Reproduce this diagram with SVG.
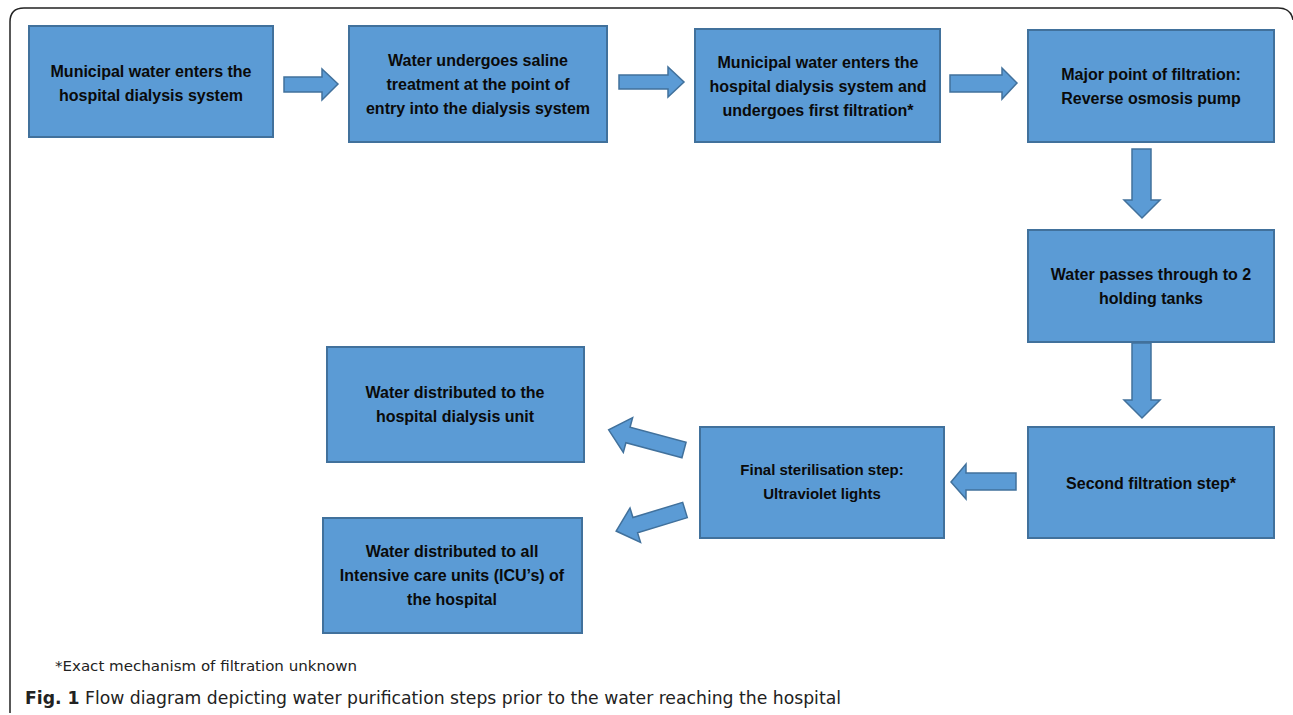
<svg xmlns="http://www.w3.org/2000/svg" width="1293" height="715" viewBox="0 0 1293 715">
<style>
.box{fill:#5B9BD5;stroke:#41719C;stroke-width:2}
.arr{fill:#5B9BD5;stroke:#41719C;stroke-width:1.5}
.t{font-family:"Liberation Sans",Arial,sans-serif;font-weight:bold;font-size:16px;fill:#0a0a0a;text-anchor:middle}
.s{font-size:15px}
.cap{font-family:"DejaVu Sans Condensed","Liberation Sans",sans-serif;fill:#222}
</style>
<rect width="1293" height="715" fill="#fff"/>
<path d="M10,713 L10,22 Q10,8 24,8 L1278,8 Q1291,8 1293,20" fill="none" stroke="#222" stroke-width="1.5"/>
<g id="n1"><rect class="box" x="29" y="26" width="244" height="111"/><text class="t" x="151" y="77">Municipal water enters the</text><text class="t" x="151" y="101">hospital dialysis system</text></g>
<g id="n2"><rect class="box" x="349" y="26" width="258" height="116"/><text class="t" x="478" y="66">Water undergoes saline</text><text class="t" x="478" y="90">treatment at the point of</text><text class="t" x="478" y="114">entry into the dialysis system</text></g>
<g id="n3"><rect class="box" x="695" y="29" width="245" height="113"/><text class="t" x="818" y="68">Municipal water enters the</text><text class="t" x="818" y="92">hospital dialysis system and</text><text class="t" x="818" y="116">undergoes first filtration*</text></g>
<g id="n4"><rect class="box" x="1028" y="30" width="246" height="112"/><text class="t" x="1151" y="80">Major point of filtration:</text><text class="t" x="1151" y="104">Reverse osmosis pump</text></g>
<g id="n5"><rect class="box" x="1028" y="230" width="246" height="112"/><text class="t" x="1151" y="280">Water passes through to 2</text><text class="t" x="1151" y="304">holding tanks</text></g>
<g id="n6"><rect class="box" x="1028" y="427" width="246" height="111"/><text class="t" x="1151" y="489">Second filtration step*</text></g>
<g id="n7"><rect class="box" x="700" y="427" width="244" height="111"/><text class="t s" x="822" y="475">Final sterilisation step:</text><text class="t s" x="822" y="499">Ultraviolet lights</text></g>
<g id="n8"><rect class="box" x="327" y="347" width="257" height="115"/><text class="t" x="455" y="398">Water distributed to the</text><text class="t" x="455" y="422">hospital dialysis unit</text></g>
<g id="n9"><rect class="box" x="323" y="518" width="259" height="115"/><text class="t" x="452" y="557">Water distributed to all</text><text class="t" x="452" y="581">Intensive care units (ICU’s) of</text><text class="t" x="452" y="605">the hospital</text></g>
<g id="connectors">
<polygon class="arr" points="284,77 322,77 322,69 338,84 322,100 322,92 284,92"/>
<polygon class="arr" points="619,75 668,75 668,67 684,82 668,97 668,89 619,89"/>
<polygon class="arr" points="950,75 1002,75 1002,68 1017,83 1002,99 1002,92 950,92"/>
<polygon class="arr" points="1132,149 1151,149 1151,200 1160,200 1142,218 1124,200 1132,200"/>
<polygon class="arr" points="1132,343 1151,343 1151,400 1160,400 1142,418 1124,400 1132,400"/>
<polygon class="arr" points="1016,473 966,473 966,464 951,482 966,499 966,490 1016,490"/>
<polygon class="arr" transform="translate(684,450) rotate(195)" points="0,-8 58,-8 58,-18 78,0 58,18 58,8 0,8"/>
<polygon class="arr" transform="translate(685,510) rotate(163)" points="0,-8 52,-8 52,-18 72,0 52,18 52,8 0,8"/>
</g>
<text class="cap" x="55" y="671" font-size="14" textLength="302" lengthAdjust="spacingAndGlyphs">*Exact mechanism of filtration unknown</text>
<text class="cap" x="25" y="704" font-size="17.5" textLength="816" lengthAdjust="spacingAndGlyphs"><tspan font-weight="bold">Fig. 1</tspan> Flow diagram depicting water purification steps prior to the water reaching the hospital</text>
</svg>
